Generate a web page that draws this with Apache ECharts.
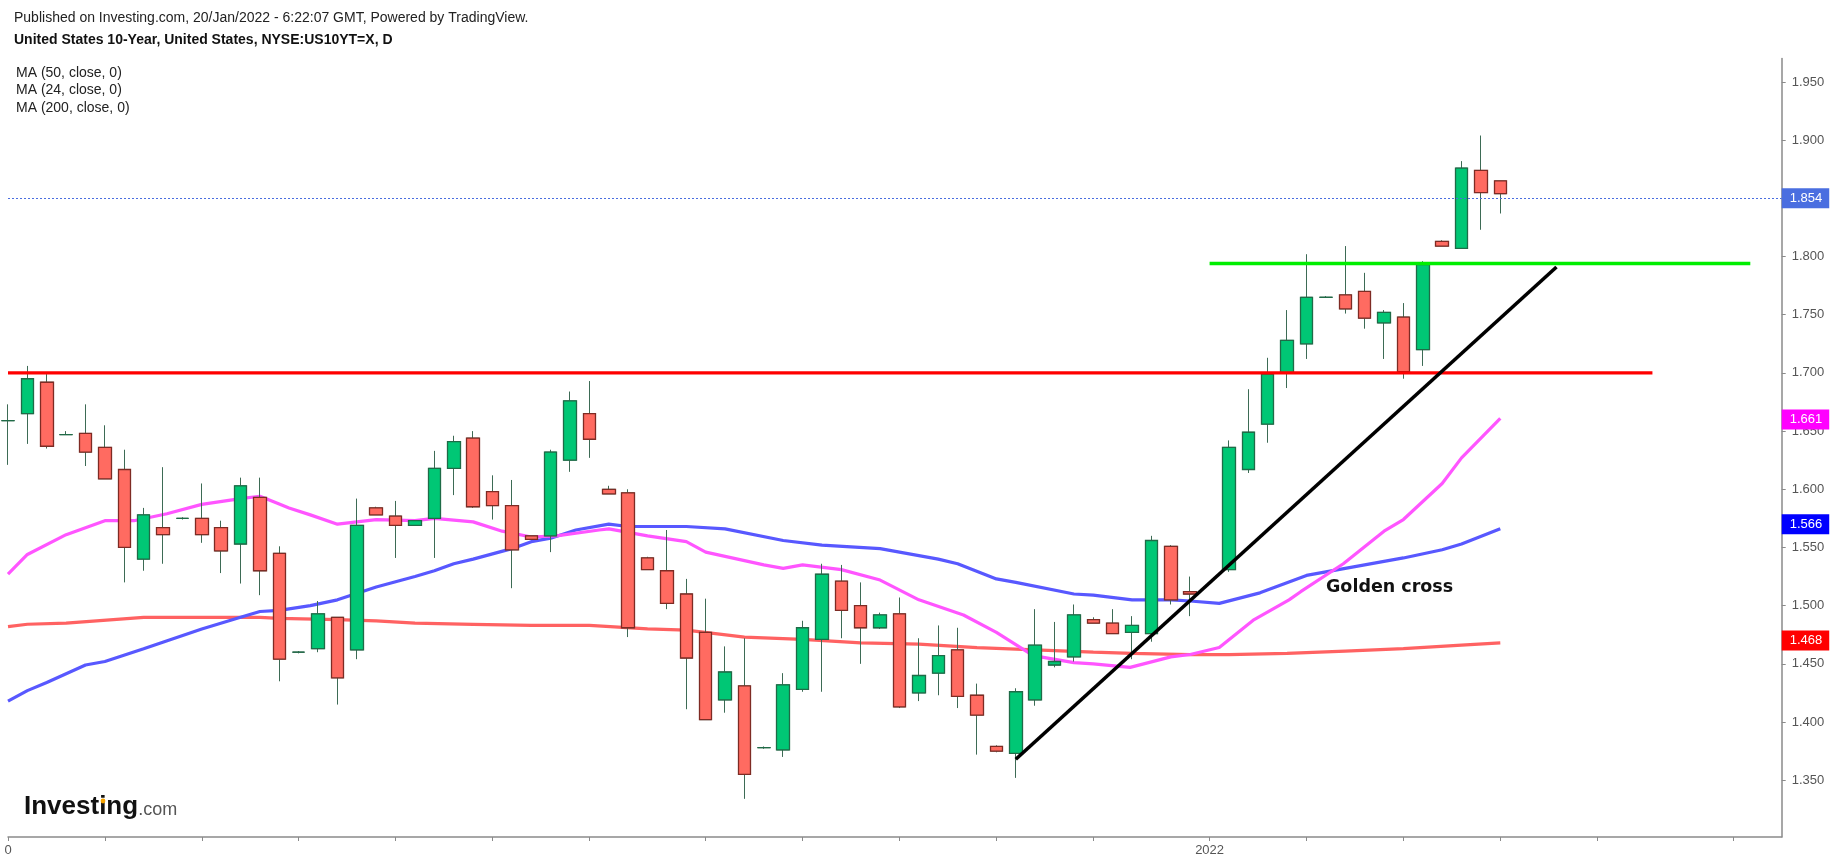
<!DOCTYPE html>
<html><head><meta charset="utf-8">
<script src="https://cdn.jsdelivr.net/npm/echarts@6/dist/echarts.min.js"></script>
<style>html,body{margin:0;padding:0;background:#fff;}#c{width:1837px;height:866px;}</style>
</head><body><div id="c"></div>
<script>
// Daily candles, index = trading-day slot (slot 62 empty)
const openVals = [1.659,1.665,1.692,1.647,1.648,1.636,1.617,1.540,1.567,1.575,1.575,1.567,1.553,1.593,1.545,1.460,1.463,1.490,1.462,1.584,1.577,1.569,1.575,1.618,1.644,1.598,1.586,1.560,1.560,1.625,1.665,1.600,1.597,1.541,1.530,1.510,1.477,1.419,1.431,1.378,1.376,1.428,1.471,1.521,1.500,1.481,1.493,1.425,1.442,1.462,1.423,1.379,1.373,1.419,1.449,1.456,1.488,1.485,1.477,1.476,1.551,1.512,null,1.531,1.617,1.656,1.700,1.725,1.765,1.767,1.770,1.743,1.748,1.720,1.813,1.807,1.874,1.865];
const closeVals = [1.659,1.695,1.637,1.647,1.632,1.609,1.550,1.578,1.561,1.575,1.561,1.547,1.603,1.530,1.454,1.460,1.493,1.438,1.569,1.578,1.569,1.573,1.618,1.641,1.585,1.586,1.548,1.557,1.632,1.676,1.643,1.596,1.481,1.531,1.502,1.455,1.402,1.443,1.355,1.378,1.432,1.481,1.527,1.496,1.481,1.492,1.413,1.440,1.457,1.422,1.406,1.375,1.426,1.466,1.452,1.492,1.485,1.476,1.483,1.556,1.505,1.510,null,1.636,1.649,1.699,1.728,1.765,1.765,1.755,1.747,1.752,1.701,1.793,1.809,1.876,1.855,1.854];
const lowVals = [1.621,1.639,1.635,1.647,1.620,1.609,1.520,1.530,1.536,1.574,1.554,1.528,1.519,1.509,1.435,1.459,1.460,1.415,1.454,1.578,1.541,1.569,1.541,1.595,1.584,1.574,1.515,1.557,1.546,1.615,1.627,1.596,1.473,1.531,1.497,1.411,1.402,1.408,1.334,1.377,1.370,1.426,1.426,1.472,1.450,1.480,1.412,1.418,1.423,1.412,1.372,1.374,1.352,1.414,1.447,1.452,1.485,1.476,1.454,1.469,1.501,1.491,null,1.529,1.614,1.640,1.687,1.712,1.765,1.751,1.738,1.712,1.695,1.706,1.809,1.807,1.823,1.837];
const highVals = [1.673,1.706,1.699,1.650,1.673,1.655,1.634,1.584,1.619,1.576,1.605,1.573,1.610,1.610,1.551,1.461,1.504,1.490,1.592,1.585,1.590,1.573,1.633,1.646,1.650,1.612,1.608,1.560,1.634,1.684,1.693,1.603,1.600,1.542,1.565,1.523,1.506,1.465,1.472,1.379,1.442,1.487,1.536,1.535,1.520,1.494,1.507,1.472,1.483,1.481,1.433,1.380,1.429,1.497,1.486,1.501,1.490,1.497,1.491,1.560,1.552,1.525,null,1.642,1.686,1.713,1.754,1.802,1.766,1.809,1.786,1.754,1.760,1.796,1.814,1.882,1.904,1.865];

// Moving averages: [slot, value]
const ma50 = [[0,1.418],[1,1.427],[2,1.434],[4,1.449],[5,1.452],[7,1.463],[10,1.480],[12,1.490],[13,1.495],[14,1.496],[15.6,1.500],[17,1.505],[19,1.516],[21,1.525],[22,1.530],[23,1.536],[24,1.540],[26,1.549],[27,1.555],[28,1.558],[29.3,1.565],[31,1.570],[32,1.568],[35,1.568],[37,1.566],[40,1.556],[42,1.552],[45,1.549],[47,1.543],[48,1.540],[49,1.536],[51,1.523],[52,1.520],[55,1.510],[56,1.509],[58,1.505],[60,1.505],[61,1.504],[62.5,1.502],[64.6,1.511],[67,1.526],[69,1.532],[71,1.538],[72,1.541],[74,1.548],[75,1.553],[77,1.566]];
const ma24 = [[0,1.527],[1,1.544],[3,1.561],[5,1.573],[6.5,1.573],[8.2,1.579],[10,1.587],[12,1.592],[13,1.594],[13.9,1.588],[14.5,1.584],[15.6,1.578],[17,1.570],[19,1.574],[21,1.573],[22,1.575],[24,1.572],[25.5,1.564],[27,1.559],[28.3,1.560],[30.5,1.565],[31,1.566],[33,1.560],[35,1.555],[36,1.546],[39,1.535],[40,1.532],[41,1.535],[43,1.531],[45,1.522],[47,1.505],[49.3,1.492],[51,1.477],[52.9,1.457],[55,1.451],[56,1.450],[57.9,1.447],[60,1.456],[61,1.458],[62.5,1.464],[64.3,1.488],[66.1,1.505],[66.7,1.512],[68.9,1.536],[71,1.564],[72,1.574],[74,1.605],[75,1.627],[77,1.661]];
const ma200 = [[0,1.482],[1,1.484],[3,1.485],[7,1.490],[13,1.490],[14,1.489],[17,1.488],[19,1.487],[21,1.485],[24,1.484],[27,1.483],[30,1.483],[33,1.480],[35,1.479],[38,1.473],[41,1.471],[44,1.468],[47,1.467],[50,1.464],[53,1.462],[56,1.460],[58,1.459],[61,1.458],[63,1.458],[66,1.459],[69,1.461],[72,1.463],[75,1.466],[77,1.468]];

// Drawn annotation lines: [slot, value]
const resistanceLine = [[0,1.700],[84.85,1.700]];
const breakoutLine = [[62,1.794],[89.9,1.794]];
const trendLine = [[52,1.368],[79.9,1.791]];

// Axis labels/ticks
const xTickSlots = [0,5,10,15,20,25,30,36,41,46,51,56,62,67,72,77,82,89];
const xLabelSlots = [0,62];
const xLabelTexts = ['0','2022'];
const yTicks = [1.35,1.40,1.45,1.50,1.55,1.60,1.65,1.70,1.75,1.80,1.85,1.90,1.95];
const priceTags = [1.854,1.661,1.566,1.468];
const priceTagColors = ['#4a6ee0','#ff00ff','#0000ff','#ff0000'];
const legendTexts = ['MA (50, close, 0)','MA (24, close, 0)','MA (200, close, 0)'];

const upFill='#00c775', upBorder='#1f6b47', downFill='#ff6b61', downBorder='#7e2b24', wickColor='#3d6b55';
const slots = openVals.map((v,i)=>i).filter(i=>openVals[i]!==null);
const wickData = slots.map(i=>[i,openVals[i],closeVals[i],lowVals[i],highVals[i]]);
const bodyData = slots.map(i=>{
  const o=openVals[i], c=closeVals[i];
  const item={value:[i,o,c,Math.min(o,c),Math.max(o,c)]};
  if(o===c) item.itemStyle={color:upFill,color0:upFill,borderColor:upBorder,borderColor0:upBorder};
  return item;
});

const FONT='"Liberation Sans", Arial, sans-serif';
const chart = echarts.init(document.getElementById('c'), null, {renderer:'canvas'});
const markData = priceTags.map((v,k)=>({
  yAxis:v,
  lineStyle:{color: k===0 ? priceTagColors[0] : 'rgba(0,0,0,0)', type:[2,2], width:1},
  label:{show:true, position:'end', distance:0, formatter:v.toFixed(3), color:'#fff', fontSize:13, fontFamily:FONT,
         backgroundColor:priceTagColors[k], padding:[3,7,3,8], lineHeight:14}
}));

chart.setOption({
  animation:false,
  backgroundColor:'#ffffff',
  grid:{left:8, right:55.3, top:58.6, bottom:29, containLabel:false},
  xAxis:{type:'value', min:0, max:91.52,
    axisLine:{show:true, onZero:false, lineStyle:{color:'#8a8a8a', width:1.5}},
    axisTick:{show:true, customValues:xTickSlots, length:4, lineStyle:{color:'#8a8a8a'}},
    axisLabel:{show:true, customValues:xLabelSlots, margin:7, color:'#555', fontSize:13, fontFamily:FONT,
      formatter:(v)=>{const k=xLabelSlots.indexOf(Math.round(v)); return k>=0?xLabelTexts[k]:'';}},
    splitLine:{show:false}},
  yAxis:{type:'value', position:'right', min:1.3012, max:1.9701, scale:true,
    axisLine:{show:true, onZero:false, lineStyle:{color:'#8a8a8a', width:1.5}},
    axisTick:{show:true, customValues:yTicks, length:4, lineStyle:{color:'#8a8a8a'}},
    axisLabel:{show:true, customValues:yTicks, margin:10, color:'#555', fontSize:13, fontFamily:FONT,
      formatter:(v)=>v.toFixed(3)},
    splitLine:{show:false}},
  series:[
    {type:'line', name:'MA200', data:ma200, showSymbol:false, z:1, lineStyle:{color:'#ff6262', width:3.2}},
    {type:'line', name:'MA50', data:ma50, showSymbol:false, z:1, lineStyle:{color:'#5858ff', width:3.2}},
    {type:'line', name:'MA24', data:ma24, showSymbol:false, z:1, lineStyle:{color:'#ff55ff', width:3.2}},
    {type:'candlestick', name:'wicks', data:wickData, barWidth:13, z:2,
      itemStyle:{color:'rgba(0,0,0,0)', color0:'rgba(0,0,0,0)', borderColor:wickColor, borderColor0:wickColor, borderWidth:1}},
    {type:'candlestick', name:'bodies', data:bodyData, barWidth:13, z:3,
      itemStyle:{color:upFill, color0:downFill, borderColor:upBorder, borderColor0:downBorder, borderWidth:1.3}},
    {type:'line', name:'resistance', data:resistanceLine, showSymbol:false, z:4, lineStyle:{color:'#ff0000', width:3.4}},
    {type:'line', name:'breakout', data:breakoutLine, showSymbol:false, z:4, lineStyle:{color:'#00ee00', width:3.4}},
    {type:'line', name:'trend', data:trendLine, showSymbol:false, z:4, lineStyle:{color:'#000000', width:3.6},
      markLine:{silent:true, symbol:['none','none'], animation:false, data:markData}}
  ],
  graphic:[
    {type:'text', left:14, top:11, style:{text:'Published on Investing.com, 20/Jan/2022 - 6:22:07 GMT, Powered by TradingView.', font:'14px '+FONT, fill:'#222'}},
    {type:'text', left:14, top:33, style:{text:'United States 10-Year, United States, NYSE:US10YT=X, D', font:'bold 14px '+FONT, fill:'#111'}},
    {type:'text', left:16, top:66, style:{text:legendTexts[0], font:'14px '+FONT, fill:'#222'}},
    {type:'text', left:16, top:83.5, style:{text:legendTexts[1], font:'14px '+FONT, fill:'#222'}},
    {type:'text', left:16, top:101, style:{text:legendTexts[2], font:'14px '+FONT, fill:'#222'}},
    {type:'text', left:1326, top:578, style:{text:'Golden cross', font:'bold 17.5px "DejaVu Sans", Verdana, sans-serif', fill:'#111'}},
    {type:'text', left:24, top:794, style:{text:'{a|Investing}{b|.com}', rich:{
      a:{fontFamily:FONT, fontWeight:'bold', fontSize:26, fill:'#111', color:'#111'},
      b:{fontFamily:FONT, fontSize:18, fill:'#555', color:'#555', padding:[6,0,0,0]}}}},
    {type:'circle', shape:{cx:103, cy:801, r:2.4}, style:{fill:'#f5a300'}, z:100}
  ]
});
</script></body></html>
